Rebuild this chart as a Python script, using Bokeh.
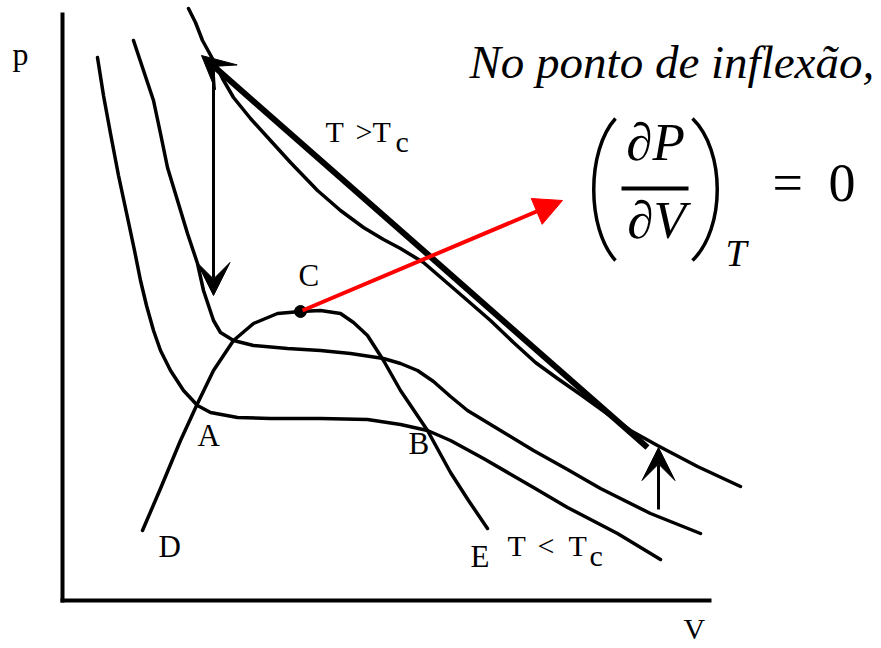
from bokeh.plotting import figure
from bokeh.models import Range1d, Arrow, VeeHead, NormalHead
from bokeh.embed import file_html
from bokeh.resources import INLINE
from bokeh.core.properties import value

# ---- isotherms in the p-V plane (arbitrary units, origin at the axes corner) ----
# isotherm above the critical temperature (T > Tc)
v_hot = [126, 133, 140, 151, 160, 171, 188, 208, 228, 255, 278, 301, 321, 338, 361,
         383, 405, 428, 451, 473, 495, 518, 543, 568, 595, 635, 678]
p_hot = [592, 578, 560, 540, 522, 503, 482, 460, 438, 410, 390, 373, 361, 352, 338,
         319, 300, 280, 258, 238, 222, 206, 188, 170, 155, 134, 114]

# critical isotherm (T = Tc), inflection at the critical point C
v_crit = [71, 81, 91, 98, 105, 115, 125, 135, 141, 146, 151, 158, 171, 191, 225, 258,
          288, 321, 338, 355, 371, 388, 405, 438, 471, 505, 538, 588, 638]
p_crit = [560, 530, 500, 467, 433, 400, 367, 337, 310, 295, 280, 268, 260, 255, 252, 250,
          247, 242, 237, 230, 219, 204, 190, 170, 150, 131, 112, 87, 67]

# isotherm below the critical temperature (T < Tc), plateau from A to B
v_cold = [35, 41, 48, 56, 65, 72, 78, 84, 91, 98, 108, 121, 135, 148, 175, 208, 258,
          305, 338, 365, 388, 421, 471, 505, 555, 598]
p_cold = [543, 505, 467, 425, 383, 350, 320, 295, 270, 250, 230, 210, 195, 188, 183, 182, 182,
          181, 176, 170, 160, 142, 113, 93, 67, 41]

# coexistence dome D - A - C - B - E
v_dome = [80, 98, 118, 135, 151, 171, 191, 215, 238, 258, 278, 291, 305, 321, 338, 365,
          388, 406, 425]
p_dome = [70, 112, 160, 197, 230, 260, 277, 287, 289, 290, 287, 278, 265, 240, 210, 170,
          128, 100, 72]

# critical point
v_c, p_c = 238, 289

# axes extent
v_max, p_max = 647, 586

# point labels
pt_text = ["A", "B", "C", "D", "E"]
pt_v = [135, 346, 236, 96, 408]
pt_p = [153, 145, 313, 42, 32]

INK = "#000000"
RED = "#ff0000"
SERIF = value("Liberation Serif")
LIFT = 0.4  # baseline correction, in em


def lifted(ys, size):
    return [y + LIFT * size for y in ys]


p = figure(width=881, height=648, x_range=Range1d(-62, 819), y_range=Range1d(-48, 600),
           output_backend="svg", toolbar_location=None, min_border=0,
           x_axis_type=None, y_axis_type=None)
p.grid.visible = False
p.outline_line_color = None
p.background_fill_color = "white"
p.border_fill_color = "white"

# axes
p.segment(x0=[0, 0], y0=[0, 0], x1=[0, v_max], y1=[p_max, 0], line_color=INK,
          line_width=4, line_cap="square")

# isotherms and dome
for vs, ps in [(v_hot, p_hot), (v_crit, p_crit), (v_cold, p_cold), (v_dome, p_dome)]:
    p.line(vs, ps, line_color=INK, line_width=3.5, line_join="round", line_cap="round")

# critical point
p.scatter([v_c], [p_c], size=12, color=INK)

# arrows: heating path along the supercritical isotherm and cooling to Tc
p.add_layout(Arrow(end=VeeHead(size=33, fill_color=INK, line_color=INK),
                   x_start=585, y_start=153, x_end=139, y_end=545,
                   line_color=INK, line_width=6))
p.add_layout(Arrow(end=VeeHead(size=33, fill_color=INK, line_color=INK),
                   x_start=151, y_start=530, x_end=151, y_end=305,
                   line_color=INK, line_width=3))
p.add_layout(Arrow(end=VeeHead(size=33, fill_color=INK, line_color=INK),
                   x_start=596, y_start=91, x_end=596, y_end=153,
                   line_color=INK, line_width=3))
p.add_layout(Arrow(end=NormalHead(size=28, fill_color=RED, line_color=RED),
                   x_start=v_c + 2, y_start=p_c + 1, x_end=500, y_end=400,
                   line_color=RED, line_width=4))

# axis labels
p.text(x=[-50], y=lifted([534], 32), text=["p"], text_font=SERIF, text_font_size="32px",
       text_baseline="alphabetic", text_color=INK)
p.text(x=[621], y=lifted([-40], 30), text=["V"], text_font=SERIF, text_font_size="30px",
       text_baseline="alphabetic", text_color=INK)

# point labels
p.text(x=pt_v, y=lifted(pt_p, 31), text=pt_text, text_font=SERIF, text_font_size="31px",
       text_baseline="alphabetic", text_color=INK)

# temperature labels with subscript c
p.text(x=[263, 293, 310, 445, 475, 506], y=lifted([457, 457, 457, 43, 43, 43], 30),
       text=["T", ">", "T", "T", "<", "T"], text_font=SERIF,
       text_font_size="30px", text_baseline="alphabetic", text_color=INK)
p.text(x=[333, 527], y=lifted([447, 33], 30), text=["c", "c"], text_font=SERIF,
       text_font_size="30px", text_baseline="alphabetic", text_color=INK)

# annotation: inflection condition
p.text(x=[407], y=lifted([520], 47), text=["No ponto de inflexão,"], text_font=SERIF,
       text_font_style="italic", text_font_size="47px", text_baseline="alphabetic",
       text_color=INK)
p.text(x=[593, 594], y=lifted([437, 359], 53), text=["\u2202P", "\u2202V"], text_font=SERIF,
       text_font_style="italic", text_font_size="53px", text_align="center",
       text_baseline="alphabetic", text_color=INK)
p.segment(x0=[559], y0=[412], x1=[626], y1=[412], line_color=INK, line_width=4)
p.bezier(x0=[553, 630], y0=[482, 482], x1=[553, 630], y1=[340, 340],
         cx0=[524, 663], cy0=[450, 450], cx1=[524, 663], cy1=[372, 372],
         line_color=INK, line_width=3.5)
p.text(x=[663], y=lifted([332], 38), text=["T"], text_font=SERIF, text_font_style="italic",
       text_font_size="38px", text_baseline="alphabetic", text_color=INK)
p.text(x=[710, 766], y=lifted([396, 396], 54), text=["=", "0"], text_font=SERIF,
       text_font_size="54px", text_baseline="alphabetic", text_color=INK)

open("out.html", "w").write(file_html(p, INLINE))
